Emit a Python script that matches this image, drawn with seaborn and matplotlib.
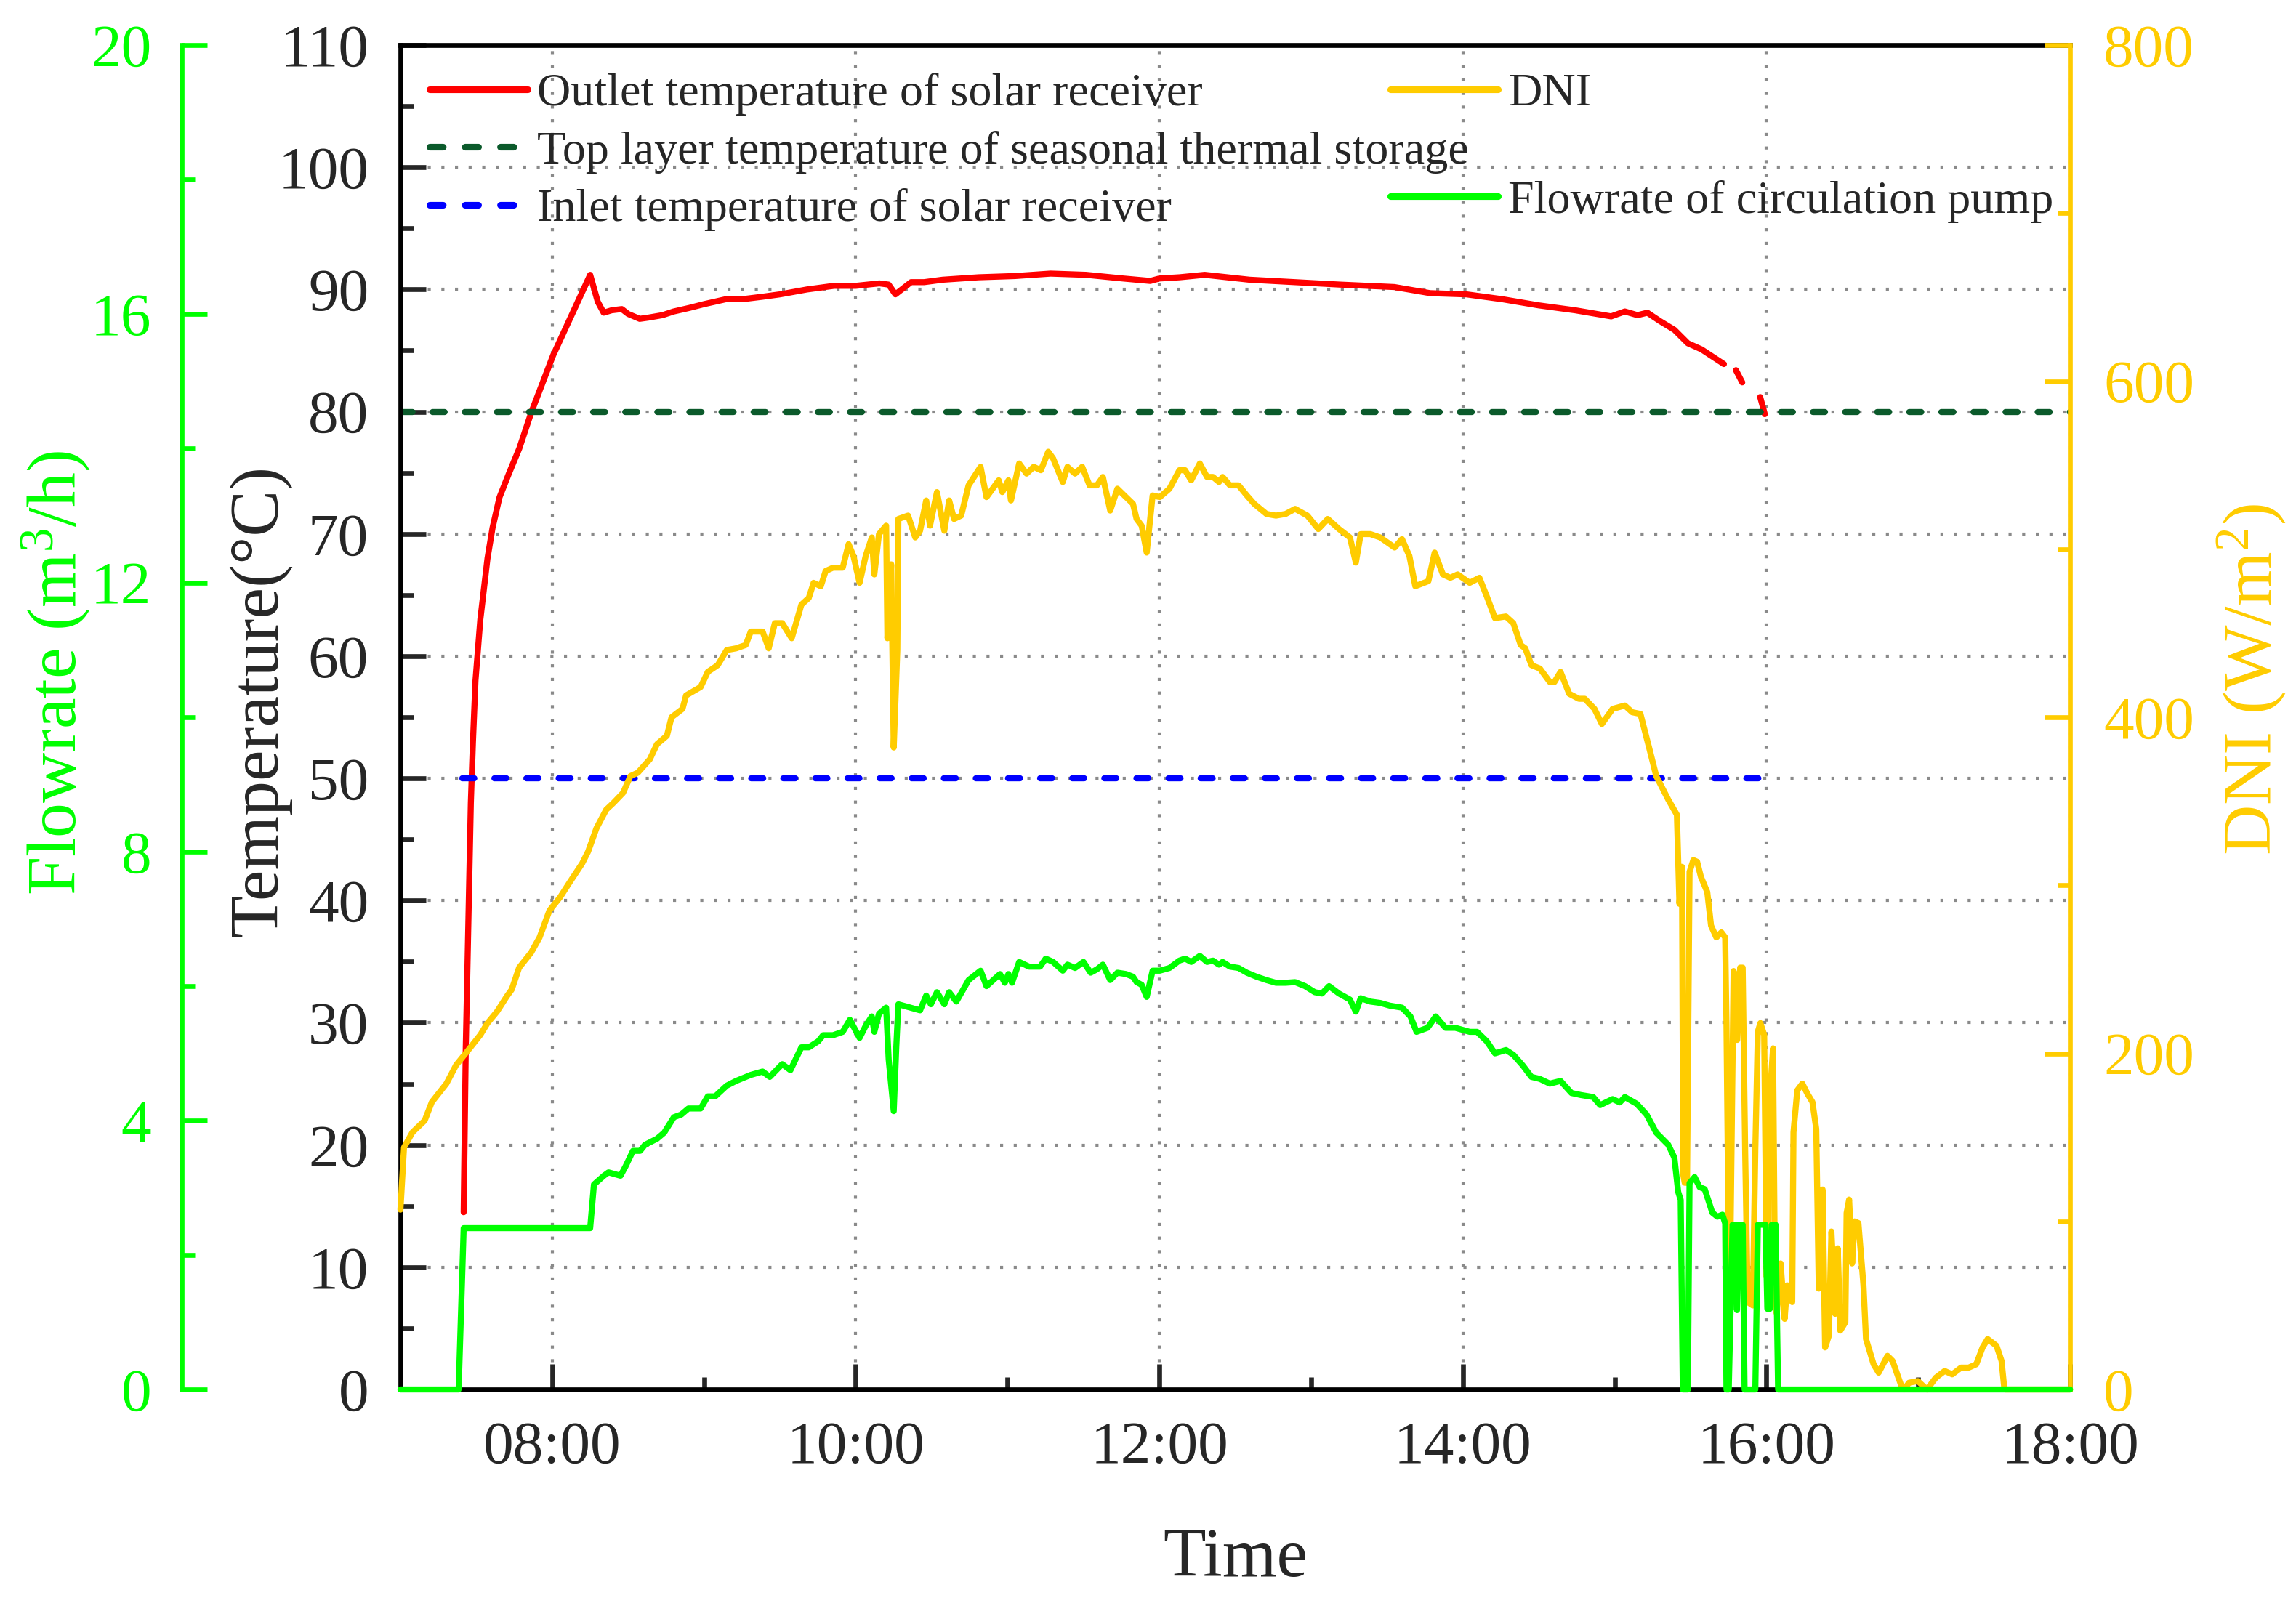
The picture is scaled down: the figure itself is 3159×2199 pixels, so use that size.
import pandas as pd
import matplotlib
matplotlib.use("Agg")
from matplotlib import pyplot as plt
from matplotlib.dates import DateFormatter, HourLocator
from matplotlib.lines import Line2D
from matplotlib.ticker import MultipleLocator
import seaborn as sns

# ---- data ----

# outlet temperature of solar receiver (degC)
outlet_time = [
    "07:25:00", "07:25:50", "07:26:50", "07:27:50", "07:28:40", "07:29:40", "07:31:35", "07:34:25",
    "07:36:25", "07:39:10", "07:43:00", "07:47:00", "07:51:50", "08:00:20", "08:15:00", "08:18:00",
    "08:20:20", "08:23:30", "08:27:30", "08:30:00", "08:34:35", "08:38:00", "08:43:35", "08:48:00",
    "08:54:20", "09:00:00", "09:08:35", "09:15:00", "09:22:55", "09:30:00", "09:40:40", "09:51:25",
    "10:00:00", "10:09:20", "10:13:00", "10:15:40", "10:21:50", "10:27:00", "10:34:20", "10:48:35",
    "11:02:55", "11:17:00", "11:31:00", "11:45:40", "11:56:25", "12:00:00", "12:08:00", "12:17:55",
    "12:35:40", "12:53:35", "13:11:25", "13:32:55", "13:47:00", "14:01:25", "14:15:40", "14:30:00",
    "14:44:20", "14:58:35", "15:04:00", "15:09:00", "15:12:55", "15:18:00", "15:23:35", "15:28:55",
    "15:34:20", "15:38:00", "15:43:10",
    "15:47:55", "15:50:25",
    "15:57:30", "15:59:20",
]
outlet_temp = [
    14.5, 28.0, 38.0, 48.0, 53.0, 58.0, 63.0, 68.0,
    70.5, 73.0, 75.0, 77.0, 80.0, 84.6, 91.2, 89.0,
    88.1, 88.3, 88.4, 88.0, 87.6, 87.7, 87.9, 88.2,
    88.5, 88.8, 89.2, 89.2, 89.4, 89.6, 90.0, 90.3,
    90.3, 90.5, 90.4, 89.6, 90.6, 90.6, 90.8, 91.0,
    91.1, 91.3, 91.2, 90.9, 90.7, 90.9, 91.0, 91.2,
    90.8, 90.6, 90.4, 90.2, 89.7, 89.6, 89.2, 88.7,
    88.3, 87.8, 88.2, 87.9, 88.1, 87.4, 86.7, 85.6,
    85.1, 84.6, 83.9,
    83.4, 82.4,
    81.2, 79.8,
]
# the logger lost samples after 15:44, so the last part comes in pieces
outlet_breaks = ["15:45:00", "15:55:00"]

# top layer temperature of seasonal thermal storage (degC)
storage_time = ["07:00:00", "18:00:00"]
storage_temp = [80, 80]

# inlet temperature of solar receiver (degC)
inlet_time = ["07:24:30", "16:00:00"]
inlet_temp = [50, 50]

# direct normal irradiance (W/m2)
dni_time = [
    "07:00:00", "07:01:25", "07:04:45", "07:09:35", "07:12:25", "07:18:10", "07:22:00", "07:26:50",
    "07:31:35", "07:34:25", "07:38:15", "07:42:05", "07:44:00", "07:46:55", "07:51:40", "07:55:00",
    "07:58:55", "08:03:10", "08:07:00", "08:11:50", "08:14:10", "08:17:30", "08:21:20", "08:24:10",
    "08:28:00", "08:30:55", "08:33:50", "08:38:35", "08:41:25", "08:45:20", "08:47:10", "08:51:30",
    "08:52:55", "08:58:40", "09:01:30", "09:05:25", "09:09:00", "09:12:40", "09:16:30", "09:18:30",
    "09:23:10", "09:25:35", "09:28:00", "09:30:55", "09:34:40", "09:38:30", "09:41:25", "09:43:20",
    "09:46:10", "09:48:05", "09:51:00", "09:54:50", "09:57:10", "09:59:05", "10:01:30", "10:03:55",
    "10:06:20", "10:07:20", "10:09:10", "10:12:00", "10:12:30", "10:14:00", "10:15:00", "10:16:25",
    "10:16:50", "10:20:40", "10:23:30", "10:25:25", "10:27:50", "10:29:20", "10:32:05", "10:35:00",
    "10:36:55", "10:38:50", "10:41:40", "10:44:35", "10:49:20", "10:51:40", "10:56:30", "10:57:55",
    "11:00:20", "11:01:20", "11:04:35", "11:07:30", "11:10:20", "11:13:10", "11:16:05", "11:18:00",
    "11:21:50", "11:23:40", "11:26:40", "11:29:30", "11:32:25", "11:35:20", "11:37:40", "11:40:35",
    "11:43:25", "11:46:50", "11:49:35", "11:51:00", "11:53:00", "11:55:00", "11:57:20", "12:00:10",
    "12:04:00", "12:07:55", "12:10:10", "12:12:35", "12:16:00", "12:18:50", "12:21:10", "12:23:35",
    "12:25:00", "12:27:55", "12:31:20", "12:34:35", "12:37:30", "12:42:20", "12:46:05", "12:49:55",
    "12:53:40", "12:58:30", "13:02:50", "13:06:35", "13:11:00", "13:15:20", "13:17:40", "13:19:35",
    "13:23:25", "13:27:20", "13:33:00", "13:35:55", "13:38:50", "13:41:10", "13:46:20", "13:48:50",
    "13:52:05", "13:55:00", "13:57:55", "14:02:40", "14:06:30", "14:09:25", "14:12:40", "14:17:00",
    "14:19:55", "14:22:50", "14:24:40", "14:27:05", "14:30:25", "14:34:20", "14:36:10", "14:38:35",
    "14:42:00", "14:45:50", "14:48:10", "14:52:00", "14:54:55", "14:59:10", "15:04:00", "15:06:55",
    "15:10:10", "15:13:35", "15:16:25", "15:21:10", "15:24:35", "15:25:35", "15:26:35", "15:27:05",
    "15:27:40", "15:28:35", "15:29:35", "15:31:05", "15:32:35", "15:34:05", "15:36:35", "15:38:05",
    "15:40:10", "15:42:10", "15:43:40", "15:44:10", "15:45:00", "15:45:35", "15:47:00", "15:48:25",
    "15:49:35", "15:50:35", "15:51:35", "15:52:35", "15:54:35", "15:55:35", "15:56:35", "15:57:35",
    "15:59:05", "16:00:05", "16:01:05", "16:02:35", "16:03:20", "16:04:05", "16:05:35", "16:07:10",
    "16:08:10", "16:10:10", "16:10:40", "16:12:10", "16:14:10", "16:16:10", "16:18:10", "16:19:40",
    "16:20:40", "16:22:10", "16:23:10", "16:24:40", "16:25:40", "16:27:10", "16:28:10", "16:29:10",
    "16:31:10", "16:31:40", "16:32:40", "16:33:50", "16:34:50", "16:36:20", "16:38:20", "16:39:20",
    "16:42:20", "16:44:20", "16:47:50", "16:49:50", "16:53:20", "16:54:20", "16:56:20", "16:59:50",
    "17:03:25", "17:06:55", "17:10:25", "17:13:25", "17:16:55", "17:19:55", "17:22:55", "17:25:25",
    "17:27:25", "17:30:55", "17:32:55", "17:33:55", "17:34:25", "18:00:00",
]
dni = [
    107, 144, 153, 160, 171, 182, 193, 202,
    211, 218, 225, 234, 238, 251, 260, 269,
    285, 293, 302, 313, 320, 334, 345, 349,
    355, 365, 367, 375, 384, 389, 400, 405,
    413, 418, 427, 431, 440, 441, 443, 451,
    451, 441, 456, 456, 447, 467, 471, 480,
    478, 487, 489, 489, 503, 496, 480, 496,
    507, 485, 509, 514, 447, 491, 382, 440,
    518, 520, 507, 511, 529, 514, 534, 511,
    529, 518, 520, 538, 549, 531, 541, 534,
    541, 529, 551, 545, 549, 547, 558, 554,
    540, 549, 545, 549, 538, 538, 543, 523,
    536, 531, 527, 518, 514, 498, 532, 531,
    536, 547, 547, 541, 551, 543, 543, 540,
    543, 538, 538, 532, 527, 521, 520, 521,
    524, 520, 512, 518, 512, 507, 492, 509,
    509, 507, 501, 506, 496, 478, 481, 498,
    485, 483, 485, 480, 483, 472, 459, 460,
    456, 443, 441, 431, 429, 421, 421, 427,
    414, 411, 411, 405, 396, 405, 407, 403,
    402, 382, 365, 351, 342, 289, 311, 128,
    123, 123, 308, 315, 314, 305, 296, 276,
    269, 272, 269, 218, 93, 67, 249, 208,
    251, 251, 140, 52, 50, 143, 213, 218,
    211, 67, 168, 203, 67, 45, 75, 42,
    62, 52, 153, 178, 182, 176, 171, 155,
    60, 119, 25, 32, 94, 45, 84, 35,
    40, 105, 113, 75, 100, 99, 62, 30,
    15, 10, 20, 17, 2, 0, 4, 5,
    0, 7, 11, 9, 13, 13, 15, 25,
    30, 26, 17, 2, 0, 0,
]

# flowrate of circulation pump (m3/h)
flow_time = [
    "07:00:00", "07:23:00", "07:25:00", "08:15:00", "08:16:30", "08:20:25", "08:22:15", "08:27:00",
    "08:29:00", "08:31:55", "08:34:45", "08:36:40", "08:41:25", "08:44:15", "08:48:05", "08:51:00",
    "08:53:50", "08:58:40", "09:01:30", "09:04:25", "09:09:00", "09:12:40", "09:18:30", "09:23:10",
    "09:26:00", "09:30:55", "09:34:10", "09:38:30", "09:41:25", "09:45:10", "09:47:05", "09:51:00",
    "09:54:50", "09:57:40", "10:01:30", "10:03:55", "10:06:20", "10:07:20", "10:09:10", "10:12:00",
    "10:13:00", "10:15:00", "10:16:00", "10:16:50", "10:21:35", "10:25:25", "10:27:50", "10:29:40",
    "10:32:05", "10:35:00", "10:36:55", "10:39:45", "10:44:35", "10:49:20", "10:51:40", "10:57:00",
    "10:58:55", "11:00:20", "11:01:45", "11:04:35", "11:08:30", "11:12:50", "11:15:05", "11:18:00",
    "11:21:50", "11:23:40", "11:26:40", "11:30:00", "11:32:50", "11:35:20", "11:37:40", "11:40:35",
    "11:43:25", "11:46:50", "11:49:35", "11:51:00", "11:53:00", "11:55:00", "11:57:20", "12:00:10",
    "12:04:00", "12:07:55", "12:10:10", "12:12:35", "12:16:00", "12:18:50", "12:21:10", "12:23:35",
    "12:25:00", "12:27:55", "12:31:20", "12:34:35", "12:38:25", "12:42:20", "12:46:05", "12:49:55",
    "12:53:40", "12:57:35", "13:01:25", "13:04:15", "13:07:05", "13:11:00", "13:15:20", "13:17:40",
    "13:19:35", "13:23:25", "13:27:20", "13:31:05", "13:35:55", "13:39:15", "13:41:40", "13:46:00",
    "13:49:15", "13:53:05", "13:57:00", "13:59:50", "14:02:40", "14:05:35", "14:09:25", "14:12:40",
    "14:17:00", "14:19:55", "14:23:40", "14:27:05", "14:30:25", "14:34:20", "14:38:35", "14:42:55",
    "14:46:40", "14:51:30", "14:54:15", "14:59:10", "15:02:00", "15:04:00", "15:08:40", "15:12:35",
    "15:16:25", "15:21:10", "15:23:35", "15:25:05", "15:26:05", "15:26:55", "15:28:55", "15:29:35",
    "15:31:35", "15:33:35", "15:35:35", "15:38:35", "15:40:35", "15:42:35", "15:43:40", "15:44:10",
    "15:45:05", "15:46:35", "15:47:55", "15:48:20", "15:48:55", "15:50:35", "15:51:20", "15:55:35",
    "15:56:35", "15:59:35", "16:00:20", "16:01:20", "16:02:05", "16:03:35", "16:04:35", "18:00:00",
]
flow = [
    0.00, 0.00, 2.40, 2.40, 3.05, 3.18, 3.23, 3.18,
    3.32, 3.55, 3.55, 3.64, 3.73, 3.82, 4.05, 4.09,
    4.18, 4.18, 4.36, 4.36, 4.52, 4.59, 4.68, 4.73,
    4.65, 4.84, 4.75, 5.09, 5.09, 5.18, 5.27, 5.27,
    5.32, 5.50, 5.23, 5.41, 5.55, 5.32, 5.59, 5.68,
    4.91, 4.14, 5.09, 5.73, 5.68, 5.64, 5.86, 5.73,
    5.91, 5.73, 5.91, 5.77, 6.09, 6.23, 6.00, 6.18,
    6.05, 6.18, 6.05, 6.36, 6.29, 6.29, 6.41, 6.36,
    6.23, 6.32, 6.27, 6.36, 6.20, 6.25, 6.32, 6.09,
    6.20, 6.18, 6.14, 6.06, 6.02, 5.84, 6.23, 6.23,
    6.27, 6.38, 6.41, 6.36, 6.45, 6.36, 6.38, 6.32,
    6.36, 6.29, 6.27, 6.20, 6.14, 6.09, 6.05, 6.05,
    6.06, 6.00, 5.91, 5.89, 6.00, 5.89, 5.80, 5.62,
    5.82, 5.77, 5.75, 5.71, 5.68, 5.55, 5.32, 5.38,
    5.55, 5.38, 5.38, 5.35, 5.32, 5.32, 5.18, 5.00,
    5.05, 4.98, 4.82, 4.65, 4.62, 4.55, 4.59, 4.41,
    4.38, 4.35, 4.23, 4.32, 4.27, 4.35, 4.25, 4.09,
    3.82, 3.64, 3.45, 2.94, 2.82, 0.00, 0.00, 3.07,
    3.16, 3.01, 2.98, 2.63, 2.57, 2.60, 2.47, 0.00,
    0.00, 2.45, 2.45, 1.18, 2.45, 2.45, 0.00, 0.00,
    2.45, 2.45, 1.20, 1.20, 2.45, 2.45, 0.00, 0.00,
]

RED = "#FF0000"
DARK_GREEN = "#0B5A2B"
BLUE = "#0000FF"
YELLOW = "#FFCC00"
GREEN = "#00FF00"


def clock(times):
    return pd.to_datetime(["2023-06-01 " + t for t in times])


sns.set_style("ticks")
plt.rcParams["font.family"] = ["Liberation Serif", "DejaVu Serif"]
plt.rcParams["mathtext.fontset"] = "custom"
plt.rcParams["mathtext.rm"] = "Liberation Serif"
plt.rcParams["mathtext.it"] = "Liberation Serif:italic"

outlet = pd.DataFrame({"time": clock(outlet_time), "temp": outlet_temp})
brk = clock(outlet_breaks)
outlet["piece"] = (outlet["time"] > brk[0]).astype(int) + (outlet["time"] > brk[1]).astype(int)
storage = pd.DataFrame({"time": clock(storage_time), "temp": storage_temp})
inlet = pd.DataFrame({"time": clock(inlet_time), "temp": inlet_temp})
dni_df = pd.DataFrame({"time": clock(dni_time), "dni": dni})
flow_df = pd.DataFrame({"time": clock(flow_time), "flow": flow})

fig, ax1 = plt.subplots(figsize=(10.53, 7.33))
fig.subplots_adjust(left=0.1744, right=0.9016, bottom=0.1305, top=0.9718)
ax2 = ax1.twinx()   # DNI on the right
ax3 = ax1.twinx()   # flowrate, extra axis far left

dash = (0, (2.0, 3.3))
LW = 2.0

# temperatures
sns.lineplot(data=outlet, x="time", y="temp", units="piece", estimator=None, sort=False,
             color=RED, lw=LW, ax=ax1, legend=False)
sns.lineplot(data=storage, x="time", y="temp", estimator=None, sort=False, color=DARK_GREEN,
             lw=LW, linestyle=dash, dash_capstyle="round", ax=ax1, legend=False)
sns.lineplot(data=inlet, x="time", y="temp", estimator=None, sort=False, color=BLUE,
             lw=LW, linestyle=dash, dash_capstyle="round", ax=ax1, legend=False)

# DNI and flowrate
sns.lineplot(data=dni_df, x="time", y="dni", estimator=None, sort=False, color=YELLOW,
             lw=LW, ax=ax2, legend=False, clip_on=False)
sns.lineplot(data=flow_df, x="time", y="flow", estimator=None, sort=False, color=GREEN,
             lw=LW, ax=ax3, legend=False, clip_on=False)

xlim = clock(["07:00:00", "18:00:00"])
ax1.set_xlim(xlim[0], xlim[1])
ax1.set_ylim(0, 110)
ax2.set_ylim(0, 800)
ax3.set_ylim(0, 20)

ax1.xaxis.set_major_locator(HourLocator(byhour=[8, 10, 12, 14, 16, 18]))
ax1.xaxis.set_minor_locator(HourLocator(byhour=[9, 11, 13, 15, 17]))
ax1.xaxis.set_major_formatter(DateFormatter("%H:%M"))
ax1.yaxis.set_major_locator(MultipleLocator(10))
ax1.yaxis.set_minor_locator(MultipleLocator(5))
ax2.yaxis.set_major_locator(MultipleLocator(200))
ax2.yaxis.set_minor_locator(MultipleLocator(100))
ax3.yaxis.set_major_locator(MultipleLocator(4))
ax3.yaxis.set_minor_locator(MultipleLocator(2))

ax1.grid(True, which="major", color="#8A8A8A", linestyle=(0, (1, 3.5)), linewidth=1.0)

# spines
for s in ax1.spines.values():
    s.set_linewidth(1.6)
    s.set_color("black")
ax1.spines["right"].set_visible(False)
for name in ["left", "top", "bottom"]:
    ax2.spines[name].set_visible(False)
ax2.spines["right"].set_color(YELLOW)
ax2.spines["right"].set_linewidth(1.6)
for name in ["right", "top", "bottom"]:
    ax3.spines[name].set_visible(False)
ax3.yaxis.set_ticks_position("left")
ax3.yaxis.set_label_position("left")
ax3.spines["left"].set_visible(True)
ax3.spines["left"].set_position(("axes", -0.131))
ax3.spines["left"].set_color(GREEN)
ax3.spines["left"].set_linewidth(1.6)

# ticks
ax1.tick_params(axis="both", which="major", direction="in", length=8.5, width=1.6, labelsize=20)
ax1.tick_params(axis="both", which="minor", direction="in", length=4.2, width=1.6)
ax1.tick_params(axis="x", which="major", pad=10.4)
ax1.tick_params(axis="y", which="major", pad=10.5)
ax2.tick_params(axis="y", which="major", direction="in", length=8.5, width=1.6, labelsize=20,
                pad=11, colors=YELLOW)
ax2.tick_params(axis="y", which="minor", direction="in", length=4.2, width=1.6, colors=YELLOW)
ax3.tick_params(axis="y", which="major", direction="in", length=8.5, width=1.6, labelsize=20,
                pad=10, colors=GREEN)
ax3.tick_params(axis="y", which="minor", direction="in", length=4.2, width=1.6, colors=GREEN)

# axis labels
ax1.set_xlabel("Time", fontsize=23, va="center")
ax1.xaxis.set_label_coords(0.5, -0.1265)
ax1.set_ylabel("Temperature(\u00b0C)", fontsize=23, va="center")
ax1.yaxis.set_label_coords(-0.084, 0.512)
ax2.set_ylabel("DNI (W/m$^2$)", fontsize=23, color=YELLOW, va="center")
ax2.yaxis.set_label_coords(1.109, 0.528)
ax3.set_ylabel("Flowrate (m$^3$/h)", fontsize=23, color=GREEN, va="center")
ax3.yaxis.set_label_coords(-0.206, 0.533)

# legends
left_handles = [
    Line2D([], [], color=RED, lw=2.2),
    Line2D([], [], color=DARK_GREEN, lw=2.2, linestyle=dash, dash_capstyle="round"),
    Line2D([], [], color=BLUE, lw=2.2, linestyle=dash, dash_capstyle="round"),
]
left_labels = [
    "Outlet temperature of solar receiver",
    "Top layer temperature of seasonal thermal storage",
    "Inlet temperature of solar receiver",
]
right_handles = [Line2D([], [], color=YELLOW, lw=2.2), Line2D([], [], color=GREEN, lw=2.2)]
right_labels = ["DNI", "Flowrate of circulation pump"]

fig.legend(left_handles, left_labels, loc="upper left", bbox_to_anchor=(0.1871, 0.9545),
           frameon=False, fontsize=15.4, borderpad=0, borderaxespad=0, handlelength=2.1,
           handletextpad=0.2, labelspacing=0.32)
fig.legend(right_handles, right_labels, loc="upper left", bbox_to_anchor=(0.6056, 0.9545),
           frameon=False, fontsize=15.4, borderpad=0, borderaxespad=0, handlelength=2.3,
           handletextpad=0.22, labelspacing=1.38)

fig.savefig("out.png", dpi=300)
